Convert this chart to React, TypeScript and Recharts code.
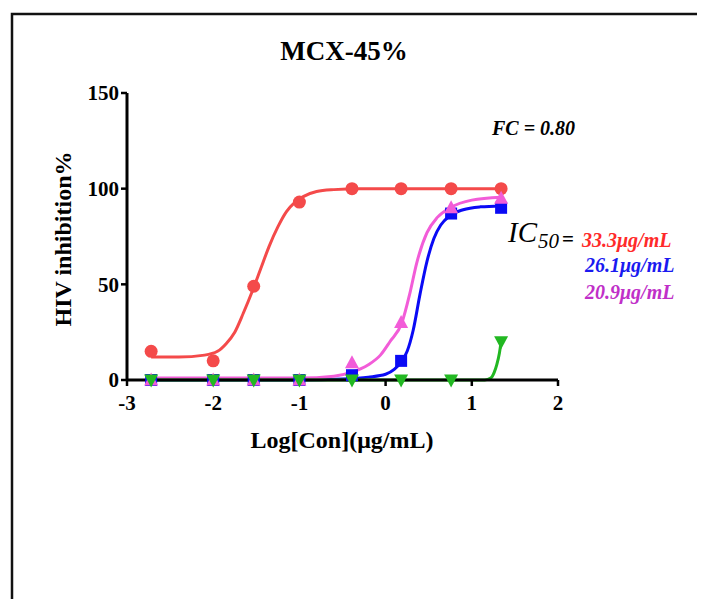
import React from "react";
import { ComposedChart, Line, Scatter, XAxis, YAxis } from "recharts";

// measured points (log concentration vs inhibition %)
const doseLog = [-2.72, -2.0, -1.53, -1.0, -0.39, 0.18, 0.76, 1.34];
const redPts = [15, 10, 49, 93, 100, 100, 100, 100];
const bluePts = [0, 0, 0, 0, 2.5, 10, 87, 90];
const pinkPts = [0, 0, 0, 0, 9, 30, 90, 95];
const greenPts = [0, 0, 0, 0, 0, 0, 0, 20];

// fitted curves
const redCurveX = [-2.72, -2.4, -2.1, -1.95, -1.85, -1.75, -1.65, -1.55, -1.45, -1.35, -1.25, -1.15, -1.05, -0.95, -0.8, -0.6, -0.3, 0.2, 1.34];
const redCurveY = [12, 12, 13, 15, 19, 25, 35, 46, 58, 70, 80, 88, 93, 96, 98.5, 99.5, 100, 100, 100];
const blueCurveX = [-2.72, -1.0, -0.5, -0.2, 0.0, 0.1, 0.18, 0.25, 0.32, 0.4, 0.48, 0.56, 0.64, 0.75, 0.9, 1.1, 1.34];
const blueCurveY = [0, 0, 0.5, 1.5, 3, 5.5, 9.5, 15, 26, 45, 62, 74, 81, 86, 89, 90.5, 91];
const pinkCurveX = [-2.72, -1.0, -0.6, -0.4, -0.2, -0.06, 0.05, 0.19, 0.28, 0.36, 0.48, 0.6, 0.75, 1.0, 1.34];
const pinkCurveY = [1, 1, 2, 4, 8, 13, 20, 30, 45, 61, 77, 85, 90, 94, 95.5];
const greenCurveX = [-2.72, 1.15, 1.22, 1.26, 1.29, 1.32, 1.34];
const greenCurveY = [0, 0, 1, 4, 8, 14, 20];

const xTicks = [-3, -2, -1, 0, 1, 2];
const yTicks = [0, 50, 100, 150];

const RED = "#F44A4A";
const BLUE = "#0A0AF5";
const PINK = "#F25CD8";
const GREEN = "#22B822";

const SERIF = "'Liberation Serif', 'Times New Roman', serif";

const toRows = (xs: number[], ys: number[]) => xs.map((x, i) => ({ x, y: ys[i] }));

// ---------------------------------------------------------------------------
// Marker shapes
// ---------------------------------------------------------------------------

const CircleDot = (p: any) => <circle cx={p.cx} cy={p.cy} r={6.5} fill={RED} />;
const SquareDot = (p: any) => (
  <rect x={p.cx - 6} y={p.cy - 6} width={12} height={12} fill={BLUE} />
);
const TriUp = (p: any) => (
  <polygon
    points={`${p.cx},${p.cy - 7.5} ${p.cx - 7},${p.cy + 5.5} ${p.cx + 7},${p.cy + 5.5}`}
    fill={PINK}
  />
);
const TriDown = (p: any) => (
  <polygon
    points={`${p.cx},${p.cy + 7.5} ${p.cx - 7},${p.cy - 5.5} ${p.cx + 7},${p.cy - 5.5}`}
    fill={GREEN}
  />
);

const tickStyle = { fill: "#000", fontSize: 21, fontWeight: 700, fontFamily: SERIF };

export default function App() {
  return (
    <div style={{ position: "relative", width: 697, height: 591, background: "#fff" }}>
      <ComposedChart
        width={697}
        height={591}
        margin={{ top: 85, right: 147, left: 0, bottom: 179 }}
      >
        <XAxis
          type="number"
          dataKey="x"
          domain={[-3, 2]}
          ticks={xTicks}
          allowDataOverflow
          height={40}
          axisLine={{ stroke: "#000", strokeWidth: 3 }}
          tickLine={{ stroke: "#000", strokeWidth: 2.5 }}
          tickSize={6}
          tickMargin={9}
          tick={tickStyle}
        />
        <YAxis
          type="number"
          dataKey="y"
          domain={[0, 150]}
          ticks={yTicks}
          width={119}
          axisLine={{ stroke: "#000", strokeWidth: 3 }}
          tickLine={{ stroke: "#000", strokeWidth: 2.5 }}
          tickSize={6}
          tickMargin={2}
          tick={tickStyle}
        />
        <Line data={toRows(redCurveX, redCurveY)} dataKey="y" type="monotone" stroke={RED} strokeWidth={3} dot={false} isAnimationActive={false} />
        <Line data={toRows(blueCurveX, blueCurveY)} dataKey="y" type="monotone" stroke={BLUE} strokeWidth={3} dot={false} isAnimationActive={false} />
        <Line data={toRows(pinkCurveX, pinkCurveY)} dataKey="y" type="monotone" stroke={PINK} strokeWidth={3} dot={false} isAnimationActive={false} />
        <Line data={toRows(greenCurveX, greenCurveY)} dataKey="y" type="monotone" stroke={GREEN} strokeWidth={3} dot={false} isAnimationActive={false} />
        <Scatter data={toRows(doseLog, redPts)} dataKey="y" shape={CircleDot} isAnimationActive={false} />
        <Scatter data={toRows(doseLog, bluePts)} dataKey="y" shape={SquareDot} isAnimationActive={false} />
        <Scatter data={toRows(doseLog, pinkPts)} dataKey="y" shape={TriUp} isAnimationActive={false} />
        <Scatter data={toRows(doseLog, greenPts)} dataKey="y" shape={TriDown} isAnimationActive={false} />
      </ComposedChart>

      {/* frame, titles and annotations */}
      <svg
        width={697}
        height={591}
        style={{ position: "absolute", left: 0, top: 0, pointerEvents: "none" }}
        fontFamily={SERIF}
      >
        <polyline points="4,591 4,6 697,6" fill="none" stroke="#111" strokeWidth={2.5} />
        <text x={336} y={52} textAnchor="middle" fontSize={27} fontWeight={700}>
          MCX-45%
        </text>
        <text x={334} y={440} textAnchor="middle" fontSize={24} fontWeight={700}>
          Log[Con](μg/mL)
        </text>
        <text
          transform="translate(63,231) rotate(-90)"
          textAnchor="middle"
          fontSize={24}
          fontWeight={700}
        >
          HIV inhibition%
        </text>
        <text x={484} y={127} fontSize={20} fontWeight={700} fontStyle="italic">
          FC = 0.80
        </text>
        <text x={500} y={234} fontSize={29} fontStyle="italic">
          IC
        </text>
        <text x={530} y={240} fontSize={21} fontStyle="italic">
          50
        </text>
        <text x={554} y={238} fontSize={21} fontWeight={700}>
          =
        </text>
        <text x={574} y={239} fontSize={20} fontWeight={700} fontStyle="italic" fill="#FF2A2A">
          33.3μg/mL
        </text>
        <text x={577} y={264} fontSize={20} fontWeight={700} fontStyle="italic" fill="#1A1AF0">
          26.1μg/mL
        </text>
        <text x={577} y={291} fontSize={20} fontWeight={700} fontStyle="italic" fill="#C030C8">
          20.9μg/mL
        </text>
      </svg>
    </div>
  );
}
